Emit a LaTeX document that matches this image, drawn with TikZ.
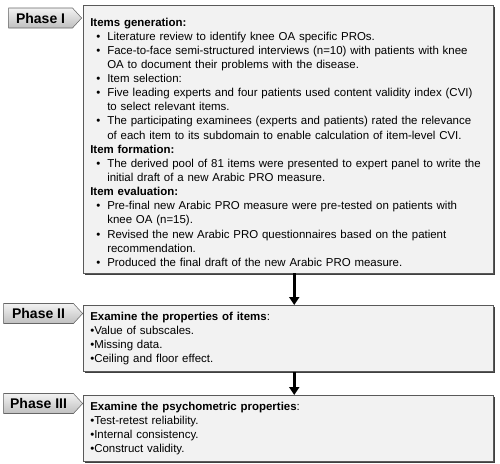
\documentclass[tikz,border=0pt]{standalone}
\usepackage{fontspec}
\setmainfont{Liberation Sans}
\usetikzlibrary{shapes.symbols,shadows,arrows.meta}
\hyphenpenalty=10000

% bullet line with hanging indent
\newcommand\bitem[1]{\par\noindent\hangindent=12.75pt\hangafter=1\makebox[12.75pt][l]{\hspace{4.5pt}\textbullet}#1}
\newcommand\bhead[1]{\par\noindent\textbf{#1}}

\begin{document}
\begin{tikzpicture}[x=0.75pt,y=-0.75pt,
    phase/.style={signal, signal to=east, signal pointer angle=95,
      draw=black!60, top color=black!5, bottom color=black!25,
      minimum height=15pt, inner sep=0pt,
      font=\fontsize{10.5}{12}\selectfont\bfseries},
    stage/.style={anchor=north west, draw=black!65, fill=black!5,
      minimum width=307.5pt, text width=297pt, inner sep=5pt, align=left,
      font=\fontsize{8.6}{10.6}\selectfont,
      drop shadow={shadow xshift=1.2pt, shadow yshift=-1.2pt, fill=black!75, opacity=1}},
    flow/.style={line width=2.2pt, -{Triangle[width=7.5pt,length=6pt]}}]
  \useasboundingbox (0,0) rectangle (500,464);

  % phase I
  \node[stage, minimum height=200pt] (items) at (83,5) {%
    \bhead{Items generation:}
    \bitem{Literature review to identify knee OA specific PROs.}
    \bitem{Face-to-face semi-structured interviews (n=10) with patients with knee\newline
      OA to document their problems with the disease.}
    \bitem{Item selection:}
    \bitem{Five leading experts and four patients used content validity index (CVI)\newline
      to select relevant items.}
    \bitem{The participating examinees (experts and patients) rated the relevance\newline
      of each item to its subdomain to enable calculation of item-level CVI.}
    \bhead{Item formation:}
    \bitem{The derived pool of 81 items were presented to expert panel to write the\newline
      initial draft of a new Arabic PRO measure.}
    \bhead{Item evaluation:}
    \bitem{Pre-final new Arabic PRO measure were pre-tested on patients with\newline
      knee OA (n=15).}
    \bitem{Revised the new Arabic PRO questionnaires based on the patient\newline
      recommendation.}
    \bitem{Produced the final draft of the new Arabic PRO measure.}};
  \node[phase, minimum width=54.75pt, anchor=east] (ph1) at (82,18) {Phase I};

  % phase II
  \node[stage, minimum height=46.5pt] (props) at (83,305) {%
    \textbf{Examine the properties of items}:\\
    \textbullet Value of subscales.\\
    \textbullet Missing data.\\
    \textbullet Ceiling and floor effect.};
  \node[phase, minimum width=59.25pt, anchor=east] (ph2) at (83,313.5) {Phase II};

  % phase III
  \node[stage, minimum height=46.5pt] (psych) at (83,395) {%
    \textbf{Examine the psychometric properties}:\\
    \textbullet Test-retest reliability.\\
    \textbullet Internal consistency.\\
    \textbullet Construct validity.};
  \node[phase, minimum width=59.25pt, anchor=east] (ph3) at (83,403.5) {Phase III};

  \draw[flow] ([xshift=4.5pt]items.south) -- ([xshift=4.5pt]props.north);
  \draw[flow] ([xshift=4.5pt]props.south) -- ([xshift=4.5pt]psych.north);
\end{tikzpicture}
\end{document}
